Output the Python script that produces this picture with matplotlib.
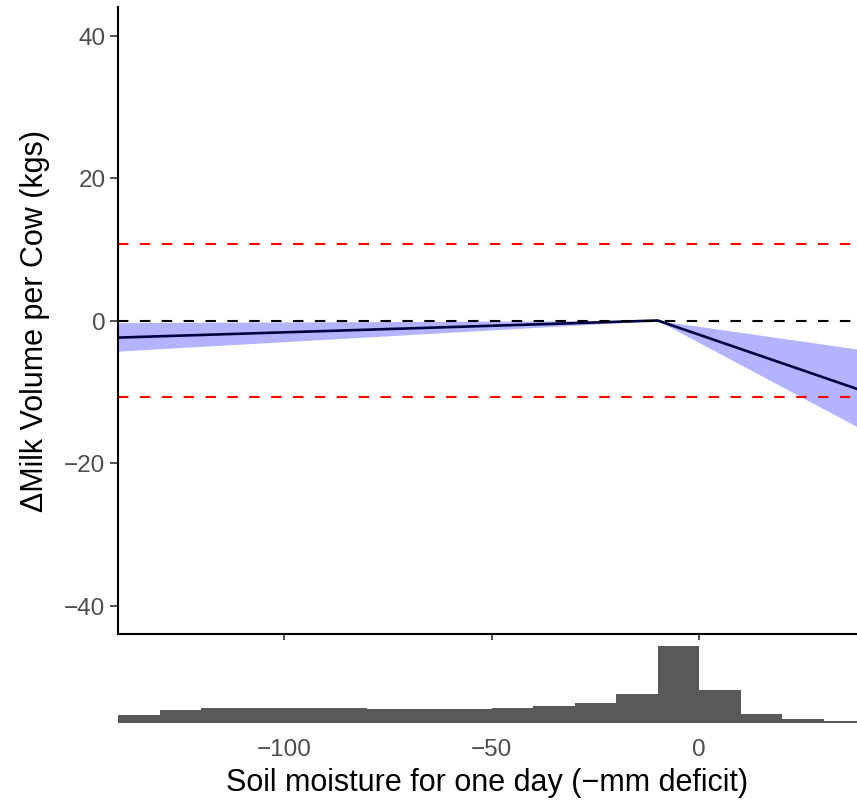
import matplotlib

matplotlib.use("Agg")
import matplotlib.pyplot as plt
import numpy as np

plt.rcParams["font.family"] = ["Liberation Sans", "DejaVu Sans"]

# fitted response (piecewise linear with kink near -10)
curve_x = [-140, -10, 38]
curve_y = [-2.4, 0.0, -9.6]
band_lo = [-4.3, 0.0, -14.9]
band_hi = [-0.3, 0.0, -4.0]

threshold = 10.8

# histogram of soil moisture (bins of width 10)
bin_edges = list(range(-140, 50, 10))
bin_counts = [8, 13, 14.5, 14.5, 14.5, 14.5, 14.2, 14.2, 14.2, 15, 16.7, 20, 29, 76, 33, 9, 4, 2]

x_ticks = [-100, -50, 0]
y_ticks = [-40, -20, 0, 20, 40]


def main() -> int:
    fig = plt.figure(figsize=(8.57, 8.03), dpi=100)
    ax = fig.add_axes([118 / 857, 1 - 635 / 803, 1 - 118 / 857, (635 - 8) / 803])
    hx = fig.add_axes([118 / 857, 1 - 724 / 803, 1 - 118 / 857, (724 - 641) / 803])

    ax.fill_between(curve_x, band_lo, band_hi, color="#b3b3ff", lw=0)
    ax.plot(curve_x, curve_y, color="#000040", lw=1.9)
    dash = (0, (5, 5.5))
    ax.axhline(0, color="black", lw=1.5, ls=dash)
    ax.axhline(threshold, color="red", lw=1.5, ls=dash)
    ax.axhline(-threshold, color="red", lw=1.5, ls=dash)

    ax.set_xlim(-140, 38)
    ax.set_ylim(-44, 44)
    ax.set_yticks(y_ticks, ["\u221240", "\u221220", "0", "20", "40"])
    ax.set_xticks(x_ticks, [])
    for side in ["top", "right"]:
        ax.spines[side].set_visible(False)
    for side in ["left", "bottom"]:
        ax.spines[side].set_linewidth(1.5)
    ax.tick_params(length=6, width=1.2, color="#333333", labelsize=17.5, labelcolor="#4d4d4d", pad=3)
    ax.set_ylabel("\u0394Milk Volume per Cow (kgs)", fontsize=22, labelpad=10)

    lefts = np.array(bin_edges[:-1])
    hx.bar(lefts, bin_counts, width=10, align="edge", color="#595959", lw=0)
    hx.set_xlim(-140, 38)
    hx.set_ylim(0, 82)
    hx.set_yticks([])
    hx.set_xticks(x_ticks, ["\u2212100", "\u221250", "0"])
    hx.tick_params(length=0, labelsize=17.5, labelcolor="#4d4d4d", pad=11)
    for side in hx.spines:
        hx.spines[side].set_visible(False)
    hx.set_xlabel("Soil moisture for one day (\u2212mm deficit)", fontsize=22, labelpad=5)

    fig.savefig("out.png", dpi=100)
    plt.close(fig)
    return 0


if __name__ == "__main__":
    raise SystemExit(main())
